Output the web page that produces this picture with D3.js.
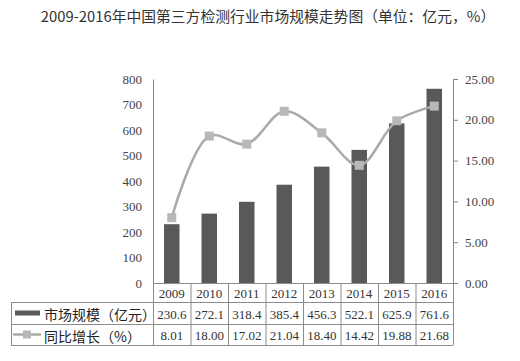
<!DOCTYPE html>
<html><head><meta charset="utf-8">
<script src="https://cdn.jsdelivr.net/npm/d3@7/dist/d3.min.js"></script>
<style>body{margin:0;background:#fff}svg{display:block}</style>
</head><body><svg id="c" width="520" height="361"></svg>
<script>
const years = ["2009","2010","2011","2012","2013","2014","2015","2016"];
const marketSize = [230.6,272.1,318.4,385.4,456.3,522.1,625.9,761.6];
const growth = [8.01,18.00,17.02,21.04,18.40,14.42,19.88,21.68];
const leftTicks = [0,100,200,300,400,500,600,700,800];
const rightTicks = [0,5,10,15,20,25];
const seriesNames = ["市场规模（亿元）","同比增长（%）"];
const title = "2009-2016年中国第三方检测行业市场规模走势图（单位：亿元，%）";

const svg = d3.select("#c");
const L = 153, R = 453, T = 79, B = 283;
const numFont = "'Liberation Serif', 'DejaVu Serif', serif";
const cjkFont = "'Noto Sans CJK SC', sans-serif";

const x = d3.scaleBand().domain(years).range([L, R]);
const yL = d3.scaleLinear().domain([0, 800]).range([B, T]);
const yR = d3.scaleLinear().domain([0, 25]).range([B, T]);

svg.append("text").attr("x", 268).attr("y", 22).attr("text-anchor", "middle")
  .attr("font-family", cjkFont).attr("font-size", 14.8).attr("fill", "#333").text(title);

// left axis
const gl = svg.append("g").attr("transform", `translate(${L},0)`)
  .call(d3.axisLeft(yL).tickValues(leftTicks).tickSize(0).tickPadding(11).tickFormat(d3.format("d")));
gl.select(".domain").attr("stroke", "#868686");
gl.selectAll("text").attr("font-family", numFont).attr("font-size", 13).attr("fill", "#444");

// right axis
const gr = svg.append("g").attr("transform", `translate(${R},0)`)
  .call(d3.axisRight(yR).tickValues(rightTicks).tickSize(5).tickPadding(7).tickSizeOuter(0).tickFormat(d3.format(".2f")));
gr.select(".domain").attr("stroke", "#868686");
gr.selectAll("line").attr("stroke", "#868686");
gr.selectAll("text").attr("font-family", numFont).attr("font-size", 13).attr("fill", "#444");

// bars
const bw = 15.5;
svg.append("g").selectAll("rect").data(marketSize).join("rect")
  .attr("x", (d, i) => x(years[i]) + x.bandwidth() / 2 - bw / 2)
  .attr("y", d => yL(d)).attr("width", bw).attr("height", d => B - yL(d))
  .attr("fill", "#595959");

// line
const line = d3.line().x((d, i) => x(years[i]) + x.bandwidth() / 2).y(d => yR(d))
  .curve(d3.curveCatmullRom.alpha(0.5));
svg.append("path").datum(growth).attr("d", line).attr("fill", "none")
  .attr("stroke", "#aaaaaa").attr("stroke-width", 2.5);
const ms = 9;
svg.append("g").selectAll("rect").data(growth).join("rect")
  .attr("x", (d, i) => x(years[i]) + x.bandwidth() / 2 - ms / 2)
  .attr("y", d => yR(d) - ms / 2).attr("width", ms).attr("height", ms)
  .attr("fill", "#b8b8b8");

// table
const tb = svg.append("g");
const rowY = [B, 302, 324, 345];
const TL = 11;
const stroke = "#8c8c8c";
tb.append("line").attr("x1", L).attr("x2", R).attr("y1", B + 0.5).attr("y2", B + 0.5).attr("stroke", stroke);
[rowY[1], rowY[2], rowY[3]].forEach(y => tb.append("line").attr("x1", TL).attr("x2", R)
  .attr("y1", y + 0.5).attr("y2", y + 0.5).attr("stroke", stroke));
tb.append("line").attr("x1", TL + 0.5).attr("x2", TL + 0.5).attr("y1", rowY[1]).attr("y2", rowY[3]).attr("stroke", stroke);
years.forEach((yr, i) => {
  const xx = x(yr);
  tb.append("line").attr("x1", xx + 0.5).attr("x2", xx + 0.5).attr("y1", B).attr("y2", rowY[3]).attr("stroke", stroke);
});
tb.append("line").attr("x1", R + 0.5).attr("x2", R + 0.5).attr("y1", B).attr("y2", rowY[3]).attr("stroke", stroke);

const cellText = (xx, y, t) => tb.append("text").attr("x", xx).attr("y", y)
  .attr("text-anchor", "middle").attr("dominant-baseline", "central")
  .attr("font-family", numFont).attr("font-size", 13).attr("fill", "#333").text(t);
years.forEach((yr, i) => {
  const cx = x(yr) + x.bandwidth() / 2;
  cellText(cx, (rowY[0] + rowY[1]) / 2 + 1, yr);
  cellText(cx, (rowY[1] + rowY[2]) / 2 + 1, marketSize[i].toFixed(1));
  cellText(cx, (rowY[2] + rowY[3]) / 2 + 1, growth[i].toFixed(2));
});

const r1 = (rowY[1] + rowY[2]) / 2, r2 = (rowY[2] + rowY[3]) / 2;
tb.append("rect").attr("x", 15).attr("y", r1 - 2.5).attr("width", 25).attr("height", 5).attr("fill", "#595959");
tb.append("line").attr("x1", 13).attr("x2", 41).attr("y1", r2).attr("y2", r2).attr("stroke", "#aaaaaa").attr("stroke-width", 2.5);
tb.append("rect").attr("x", 23).attr("y", r2 - 4).attr("width", 8).attr("height", 8).attr("fill", "#b8b8b8");
[seriesNames[0], seriesNames[1]].forEach((s, i) => {
  tb.append("text").attr("x", 44).attr("y", (i ? r2 : r1) + 1).attr("dominant-baseline", "central")
    .attr("font-family", cjkFont).attr("font-size", 14).attr("fill", "#222").text(s);
});
</script></body></html>
